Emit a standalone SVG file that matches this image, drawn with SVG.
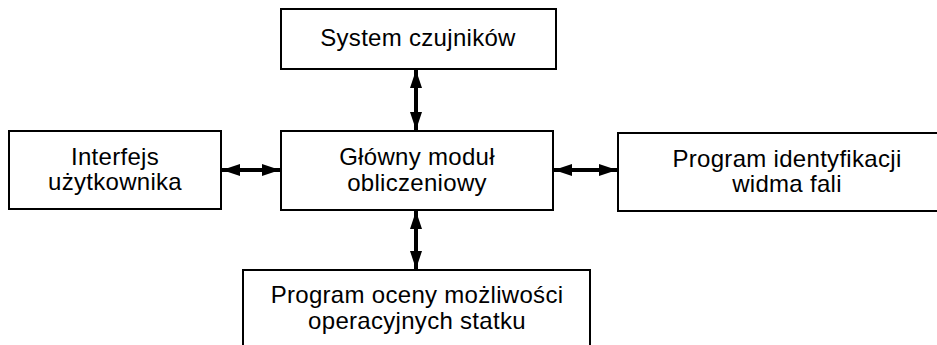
<svg xmlns="http://www.w3.org/2000/svg" width="937" height="345" viewBox="0 0 937 345">
  <style>
    .box { fill: #ffffff; stroke: #000000; stroke-width: 2; }
    .lbl { font-family: "Liberation Sans", Arial, sans-serif; font-size: 24px; letter-spacing: 0.3px; fill: #000000; text-anchor: middle; }
    .link { stroke: #000000; stroke-width: 4; fill: none; marker-start: url(#head); marker-end: url(#head); }
  </style>
  <defs>
    <marker id="head" viewBox="0 0 18 12" refX="18" refY="6" markerWidth="18" markerHeight="12" markerUnits="userSpaceOnUse" orient="auto-start-reverse">
      <path d="M0,0 L18,6 L0,12 Z" fill="#000000"/>
    </marker>
  </defs>
  <rect width="937" height="345" fill="#ffffff"/>

  <g id="connectors">
    <line class="link" x1="416" y1="70" x2="416" y2="130"/>
    <line class="link" x1="416" y1="211" x2="416" y2="269"/>
    <line class="link" x1="222" y1="170" x2="280" y2="170"/>
    <line class="link" x1="554" y1="170" x2="617" y2="170"/>
  </g>

  <g id="sensors">
    <rect class="box" x="281" y="9" width="275" height="60"/>
    <text class="lbl" x="418" y="46">System czujników</text>
  </g>

  <g id="main">
    <rect class="box" x="281" y="131" width="272" height="79"/>
    <text class="lbl" x="417" y="165">Główny moduł</text>
    <text class="lbl" x="417" y="191">obliczeniowy</text>
  </g>

  <g id="ui">
    <rect class="box" x="9" y="131" width="212" height="78"/>
    <text class="lbl" x="115" y="165">Interfejs</text>
    <text class="lbl" x="115" y="190">użytkownika</text>
  </g>

  <g id="wave">
    <rect class="box" x="618" y="133" width="330" height="78"/>
    <text class="lbl" x="787" y="167">Program identyfikacji</text>
    <text class="lbl" x="787" y="192">widma fali</text>
  </g>

  <g id="ship">
    <rect class="box" x="243" y="270" width="347" height="100"/>
    <text class="lbl" x="417" y="303">Program oceny możliwości</text>
    <text class="lbl" x="417" y="329">operacyjnych statku</text>
  </g>
</svg>
